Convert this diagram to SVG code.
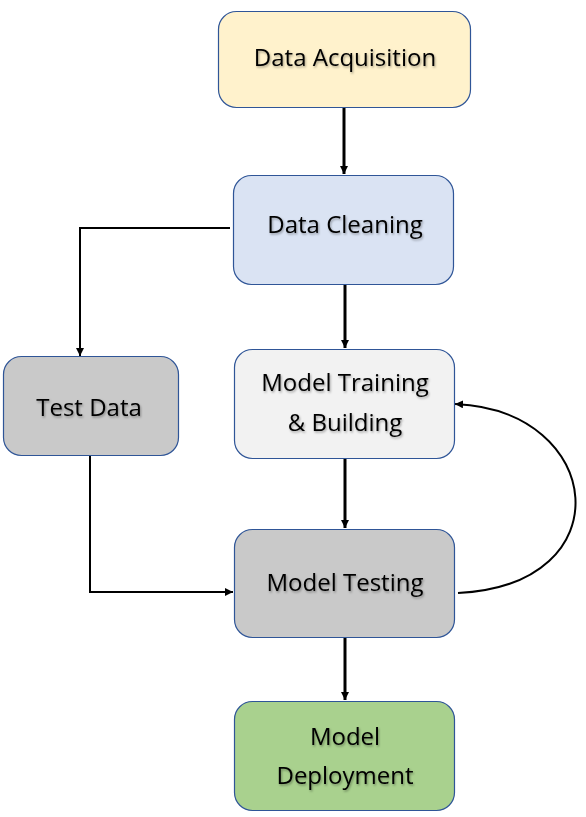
<svg xmlns="http://www.w3.org/2000/svg" width="586" height="817" viewBox="0 0 586 817">
<defs>
<style>
.box{stroke:#2F5597;stroke-width:1.2}
.lbl{font-family:"Open Sans","Liberation Sans",sans-serif;font-size:24px;fill:#000;text-anchor:middle;filter:url(#sh)}
.thick{stroke:#000;stroke-width:3;fill:none}
.thin{stroke:#000;stroke-width:2;fill:none}
</style>
<filter id="sh" x="-10%" y="-20%" width="120%" height="140%">
<feDropShadow dx="1" dy="1.5" stdDeviation="0.8" flood-color="#000" flood-opacity="0.35"/>
</filter>
<marker id="ah" viewBox="0 0 10 10" refX="10" refY="5" markerWidth="8" markerHeight="8" markerUnits="userSpaceOnUse" orient="auto">
<path d="M0,0 L10,5 L0,10 z" fill="#000"/>
</marker>
</defs>
<rect width="586" height="817" fill="#fff"/>
<g id="connectors">
<path class="thick" d="M344,107 V174" marker-end="url(#ah)"/>
<path class="thin" d="M230,228 H80 V356" marker-end="url(#ah)"/>
<path class="thick" d="M345,284 V348" marker-end="url(#ah)"/>
<path class="thick" d="M345,458 V528" marker-end="url(#ah)"/>
<path class="thin" d="M90,455 V592 H233" marker-end="url(#ah)"/>
<path class="thin" d="M458,593 C625,585 605,410 455,404" marker-end="url(#ah)"/>
<path class="thick" d="M345,637 V700" marker-end="url(#ah)"/>
</g>
<g id="data-acquisition">
<rect class="box" x="218.5" y="11.5" width="252" height="96" rx="18" fill="#FFF2CC"/>
<text class="lbl" x="345" y="66">Data Acquisition</text>
</g>
<g id="data-cleaning">
<rect class="box" x="233.5" y="175.5" width="220" height="109" rx="18" fill="#DAE3F3"/>
<text class="lbl" x="345" y="233">Data Cleaning</text>
</g>
<g id="test-data">
<rect class="box" x="3.5" y="356.5" width="175" height="99" rx="18" fill="#C9C9C9"/>
<text class="lbl" x="89" y="416">Test Data</text>
</g>
<g id="model-training">
<rect class="box" x="234.5" y="349.5" width="220" height="109" rx="18" fill="#F2F2F2"/>
<text class="lbl" x="345" y="391">Model Training</text>
<text class="lbl" x="345" y="431">&amp; Building</text>
</g>
<g id="model-testing">
<rect class="box" x="234.5" y="529.5" width="220" height="108" rx="18" fill="#C9C9C9"/>
<text class="lbl" x="345" y="591">Model Testing</text>
</g>
<g id="model-deployment">
<rect class="box" x="234.5" y="701.5" width="220" height="109" rx="18" fill="#A9D18E"/>
<text class="lbl" x="345" y="745">Model</text>
<text class="lbl" x="345" y="784">Deployment</text>
</g>
</svg>
